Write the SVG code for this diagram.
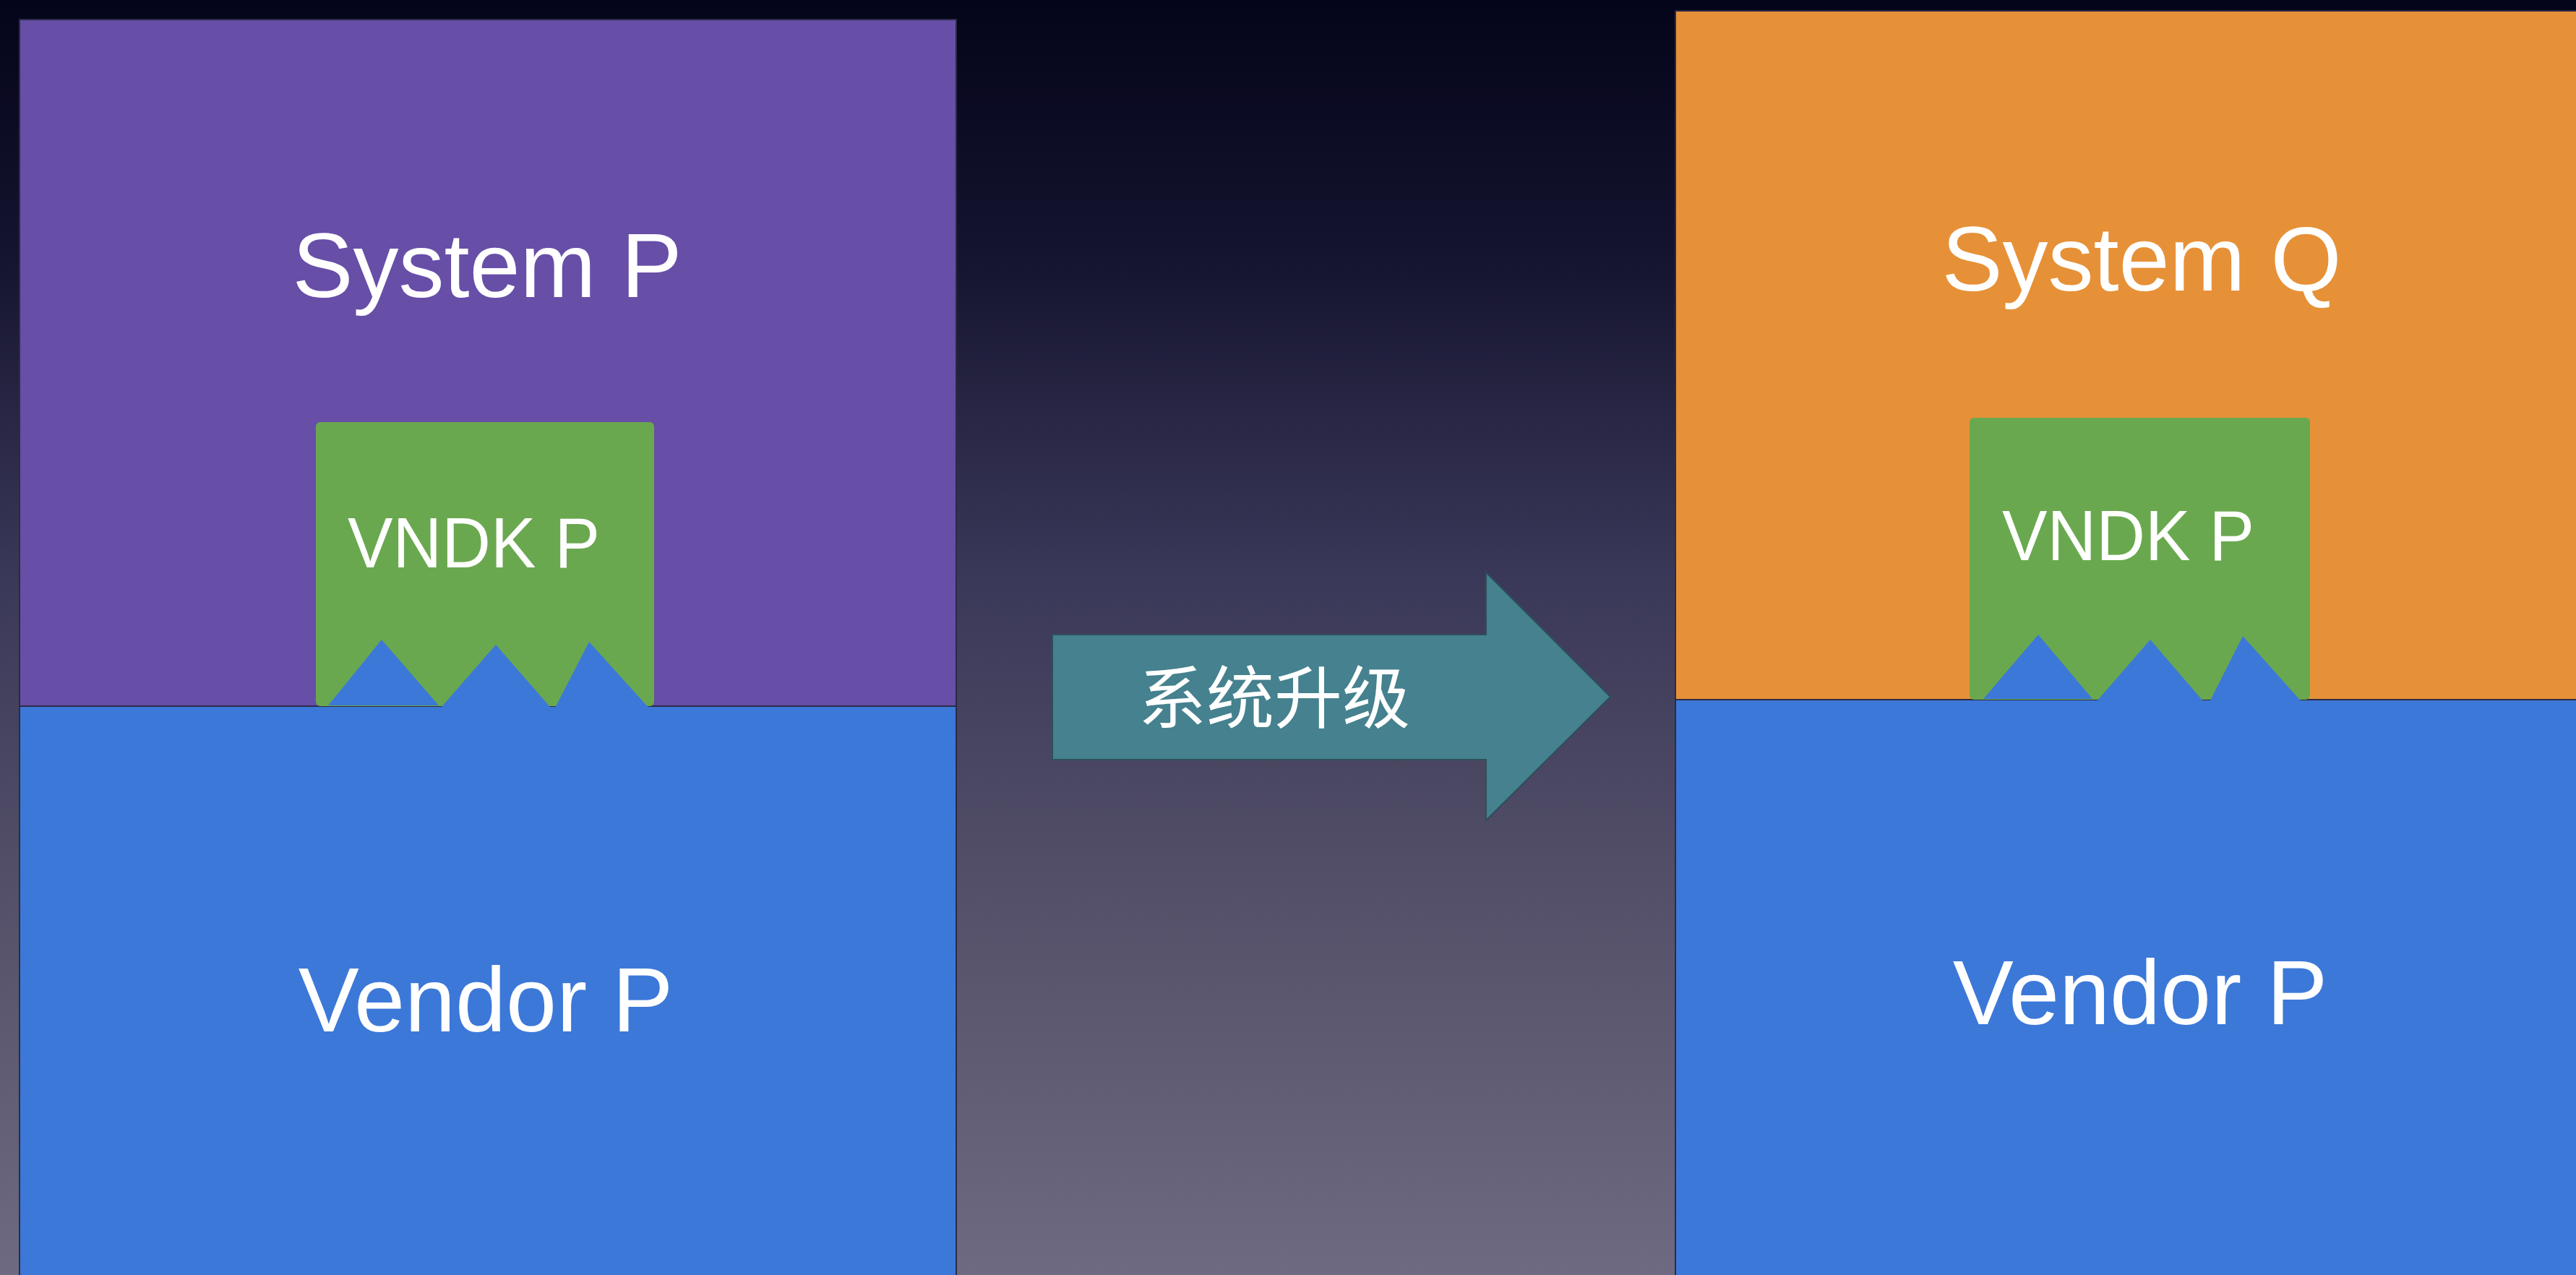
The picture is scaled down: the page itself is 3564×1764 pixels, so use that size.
<svg xmlns="http://www.w3.org/2000/svg" width="3564" height="1764" viewBox="0 0 3564 1764">
<defs>
<linearGradient id="bg" x1="0" y1="0" x2="0" y2="1">
<stop offset="0" stop-color="#04041a"/>
<stop offset="0.2" stop-color="#15142f"/>
<stop offset="0.45" stop-color="#3a3858"/>
<stop offset="0.7" stop-color="#545069"/>
<stop offset="1" stop-color="#6d6a81"/>
</linearGradient>
<style>
.box{stroke:#2b2b45;stroke-width:2}
.purple{fill:#674ea7}
.orange{fill:#e69138}
.blue{fill:#3c78d8}
.green{fill:#6aa84f}
.tri{fill:#3c78d8}
.big{font-family:"Liberation Sans",Arial,sans-serif;font-size:126px;fill:#ffffff;text-anchor:middle}
.mid{font-family:"Liberation Sans",Arial,sans-serif;font-size:98px;fill:#ffffff}
.cn{font-family:"Noto Sans CJK SC","Noto Sans",sans-serif;font-size:94px;fill:#ffffff}
</style>
</defs>
<rect x="0" y="0" width="3564" height="1764" fill="url(#bg)"/>

<g id="system-p">
<rect class="box purple" x="27" y="27" width="1296" height="952"/>
<text class="big" x="674" y="411">System P</text>
</g>
<g id="vendor-p-left">
<rect class="box blue" x="27" y="977" width="1296" height="800"/>
<text class="big" x="672" y="1427">Vendor P</text>
</g>
<g id="vndk-p-left">
<rect class="green" x="437" y="584" width="468" height="393" rx="6"/>
<text class="mid" x="481" y="785" textLength="349" lengthAdjust="spacingAndGlyphs">VNDK P</text>
<polygon class="tri" points="528,885 607,976 454,976"/>
<polygon class="tri" points="686,892 767,985 610,979"/>
<polygon class="tri" points="815,888 900,982 765,985"/>
</g>

<g id="system-q">
<rect class="box orange" x="2318" y="15" width="1260" height="955"/>
<text class="big" x="2963" y="402">System Q</text>
</g>
<g id="vendor-p-right">
<rect class="box blue" x="2318" y="968" width="1260" height="810"/>
<text class="big" x="2961" y="1417">Vendor P</text>
</g>
<g id="vndk-p-right">
<rect class="green" x="2725" y="578" width="471" height="390" rx="6"/>
<text class="mid" x="2770" y="775" textLength="349" lengthAdjust="spacingAndGlyphs">VNDK P</text>
<polygon class="tri" points="2820,878 2895,967 2744,967"/>
<polygon class="tri" points="2975,885 3054,977 2902,969"/>
<polygon class="tri" points="3103,880 3188,975 3054,977"/>
</g>

<g id="connectors">
<g id="upgrade-arrow">
<polygon points="1456,878 2056,878 2056,792 2228,964 2056,1135 2056,1051 1456,1051" fill="#45818e" stroke="#2e4f5a" stroke-width="2"/>
<text class="cn" x="1575" y="1000">系统升级</text>
</g>
</g>
</svg>
